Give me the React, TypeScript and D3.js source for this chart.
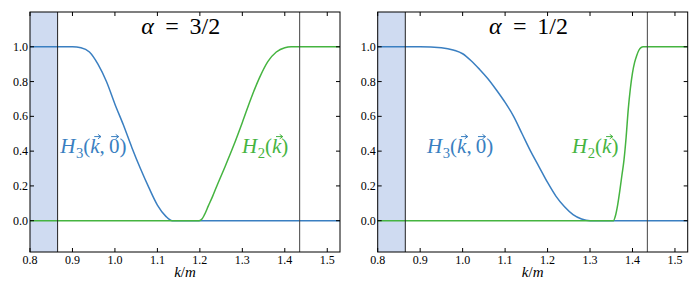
import React from 'react';
import * as d3 from 'd3';

// axes
const xTicks = [0.8, 0.9, 1.0, 1.1, 1.2, 1.3, 1.4, 1.5];
const yTicks = [0.0, 0.2, 0.4, 0.6, 0.8, 1.0];
const xDomain = [0.8, 1.53];
const yDomain = [-0.18, 1.2];
const shadeEdge = 0.865;
const cutLines = [0.865, 1.435];
const alphaLabels = ['3/2', '1/2'];

// alpha = 3/2
const h3K32 = [0.8, 0.9, 0.92, 0.94, 0.96, 0.98, 1.0, 1.02, 1.04, 1.06, 1.08, 1.1, 1.12, 1.135, 1.53];
const h3V32 = [1, 1, 0.995, 0.97, 0.9, 0.8, 0.67, 0.55, 0.42, 0.3, 0.19, 0.09, 0.025, 0, 0];
const h2K32 = [0.8, 1.198, 1.205, 1.21, 1.22, 1.23, 1.24, 1.26, 1.28, 1.3, 1.32, 1.34, 1.36, 1.38, 1.4, 1.415, 1.53];
const h2V32 = [0, 0, 0.01, 0.03, 0.085, 0.14, 0.2, 0.315, 0.435, 0.565, 0.7, 0.82, 0.915, 0.97, 0.995, 1, 1];

// alpha = 1/2
const h3K12 = [0.8, 0.9, 0.95, 0.98, 1.0, 1.02, 1.04, 1.06, 1.08, 1.1, 1.12, 1.14, 1.16, 1.18, 1.2, 1.22, 1.24, 1.26, 1.28, 1.3, 1.53];
const h3V12 = [1, 1, 0.995, 0.98, 0.96, 0.92, 0.87, 0.815, 0.75, 0.68, 0.6, 0.5, 0.4, 0.31, 0.22, 0.14, 0.08, 0.035, 0.01, 0, 0];
const h2K12 = [0.8, 1.355, 1.36, 1.365, 1.37, 1.375, 1.38, 1.385, 1.39, 1.395, 1.4, 1.405, 1.41, 1.415, 1.42, 1.425, 1.53];
const h2V12 = [0, 0, 0.03, 0.09, 0.17, 0.26, 0.35, 0.48, 0.64, 0.76, 0.85, 0.91, 0.95, 0.98, 0.995, 1, 1];

// label anchors (data coords)
const h3LabelK = [0.871, 0.916];
const h2LabelK = [1.299, 1.2575];
const labelY = 0.387;

const BLUE = '#3a7fc1';
const GREEN = '#45b440';
const SHADE = '#cfdbf1';
const SERIF = "'Liberation Serif', serif";

// rough Times/Liberation advance widths (em)
const W: Record<string, number> = {
  H: 0.722, k: 0.444, m: 0.722, 'α': 0.55, '(': 0.333, ')': 0.333, ',': 0.25,
  '/': 0.278, '=': 0.564, '0': 0.5, '1': 0.5, '2': 0.5, '3': 0.5,
};

type Part = { t: string; it?: boolean; sub?: boolean; vec?: boolean; gap?: number };

const MathText = ({ x, y, parts, size, color, anchor = 'start' }:
  { x: number; y: number; parts: Part[]; size: number; color: string; anchor?: string }) => {
  const widths = parts.map((p) => p.t.split('').reduce((s, c) => s + (W[c] ?? 0.5), 0) * (p.sub ? size * 0.7 : size));
  const total = parts.reduce((s, p, i) => s + widths[i] + (p.gap ?? 0) * size, 0);
  let cx = anchor === 'middle' ? x - total / 2 : x;
  const items: { x: number; p: Part; w: number }[] = [];
  parts.forEach((p, i) => {
    items.push({ x: cx, p, w: widths[i] });
    cx += widths[i] + (p.gap ?? 0) * size;
  });
  return (
    <g fill={color}>
      {items.map(({ x: px, p, w }, i) => (
        <text key={i} x={px} y={p.sub ? y + size * 0.22 : y}
          style={{ fontFamily: SERIF, fontSize: `${p.sub ? size * 0.7 : size}px`, fontStyle: p.it ? 'italic' : 'normal' }}>
          {p.t}
        </text>
      ))}
      {items.filter((d) => d.p.vec).map(({ x: px, p, w }, i) => {
        const ay = y - size * 0.8;
        const x0 = px + w * 0.2 + (p.it ? size * 0.1 : 0);
        const x1 = px + w * 0.92 + (p.it ? size * 0.1 : 0);
        return (
          <path key={'a' + i} d={`M${x0},${ay}L${x1},${ay}M${x1 - 3},${ay - 2.2}L${x1},${ay}L${x1 - 3},${ay + 2.2}`}
            fill="none" stroke={color} strokeWidth={1} />
        );
      })}
    </g>
  );
};

const panels = [
  { left: 30, h3k: h3K32, h3v: h3V32, h2k: h2K32, h2v: h2V32 },
  { left: 377.7, h3k: h3K12, h3v: h3V12, h2k: h2K12, h2v: h2V12 },
];
const plotW = 310;
const top = 12;
const bottom = 252;

const Panel = ({ i }: { i: number }) => {
  const p = panels[i];
  const x = d3.scaleLinear().domain(xDomain).range([p.left, p.left + plotW]);
  const y = d3.scaleLinear().domain(yDomain).range([bottom, top]);
  const line = (ks: number[], vs: number[]) =>
    d3.line<number>().x((k) => x(k)).y((_, j) => y(vs[j])).curve(d3.curveMonotoneX)(ks) ?? '';
  const fmt = d3.format('.1f');

  return (
    <g>
      <rect x={x(xDomain[0])} y={top} width={x(shadeEdge) - x(xDomain[0])} height={bottom - top} fill={SHADE} />
      <path d={line(p.h3k, p.h3v)} fill="none" stroke={BLUE} strokeWidth={1.5} />
      <path d={line(p.h2k, p.h2v)} fill="none" stroke={GREEN} strokeWidth={1.5} />
      {cutLines.map((c, j) => (
        <line key={j} x1={x(c)} x2={x(c)} y1={top} y2={bottom} stroke={j === 0 ? '#222' : '#444'} strokeWidth={1} />
      ))}
      <rect x={p.left} y={top} width={plotW} height={bottom - top} fill="none" stroke="#000" strokeWidth={1} />
      {xTicks.map((t) => (
        <g key={t}>
          <line x1={x(t)} x2={x(t)} y1={bottom} y2={bottom - 4} stroke="#000" />
          <line x1={x(t)} x2={x(t)} y1={top} y2={top + 4} stroke="#000" />
          <text x={x(t)} y={264} textAnchor="middle" style={{ fontFamily: SERIF, fontSize: '12px' }}>{fmt(t)}</text>
        </g>
      ))}
      {yTicks.map((t) => (
        <g key={t}>
          <line x1={p.left} x2={p.left + 4} y1={y(t)} y2={y(t)} stroke="#000" />
          <line x1={p.left + plotW} x2={p.left + plotW - 4} y1={y(t)} y2={y(t)} stroke="#000" />
          <text x={p.left - 2} y={y(t)} dy="0.33em" textAnchor="end" style={{ fontFamily: SERIF, fontSize: '12px' }}>{fmt(t)}</text>
        </g>
      ))}
      <MathText x={p.left + plotW / 2} y={277} anchor="middle" size={15} color="#000"
        parts={[{ t: 'k', it: true }, { t: '/' }, { t: 'm', it: true }]} />
      <MathText x={x(1.155)} y={34} anchor="middle" size={24} color="#000"
        parts={[{ t: 'α', it: true, gap: 0.45 }, { t: '=', gap: 0.45 }, { t: alphaLabels[i] }]} />
      <MathText x={x(h3LabelK[i])} y={y(labelY)} size={21} color={BLUE}
        parts={[{ t: 'H', it: true, gap: 0.03 }, { t: '3', sub: true }, { t: '(' }, { t: 'k', it: true, vec: true },
          { t: ',', gap: 0.2 }, { t: '0', vec: true }, { t: ')' }]} />
      <MathText x={x(h2LabelK[i])} y={y(labelY)} size={21} color={GREEN}
        parts={[{ t: 'H', it: true, gap: 0.03 }, { t: '2', sub: true }, { t: '(' }, { t: 'k', it: true, vec: true }, { t: ')' }]} />
    </g>
  );
};

const App = () => {
  document.body.style.margin = '0';
  return (
    <svg width={700} height={292} style={{ display: 'block' }}>
      <Panel i={0} />
      <Panel i={1} />
    </svg>
  );
};

export default App;
